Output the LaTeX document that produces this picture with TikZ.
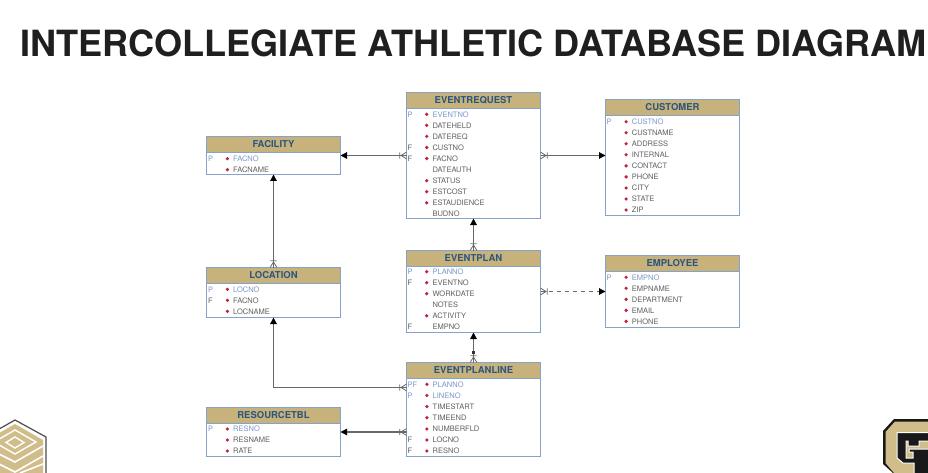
\documentclass[tikz,border=0pt]{standalone}
\usepackage{fontspec}
\setmainfont{TeX Gyre Heros}
\usetikzlibrary{arrows.meta}
\definecolor{headtan}{HTML}{C8B27C}
\definecolor{edgeblue}{HTML}{85A3C8}
\definecolor{headblue}{HTML}{2A5580}
\definecolor{keyblue}{HTML}{7A98C6}
\definecolor{fieldgray}{HTML}{606060}
\definecolor{dotred}{HTML}{C4203C}
\definecolor{linkgray}{HTML}{686868}
\definecolor{logogold}{HTML}{D0BD8A}
\tikzset{
	tbl/.style={draw=edgeblue,line width=1.2pt,fill=white,inner sep=0pt,outer sep=0pt,minimum width=134pt,anchor=north west},
	headbox/.style={tbl,fill=headtan,minimum height=16pt,text=headblue,font=\fontsize{9.5}{11}\bfseries\selectfont},
	field/.style={anchor=west,inner sep=0pt,text height=5.5pt,text depth=0pt,text=fieldgray,font=\fontsize{7.5}{9}\selectfont},
	keyfield/.style={field,text=keyblue},
	keytag/.style={field,text=keyblue},
	ftag/.style={field},
	dot/.style={fill=dotred},
	link/.style={line width=1.2pt,draw=linkgray,-{Triangle[length=6.5pt,width=6.5pt,color=black]}},
	crowfoot/.pic={\draw[line width=0.8pt,draw=linkgray] (0,3.4) -- (5.5,0) -- (0,-3.4) (6.8,3.2) -- (6.8,-3.2);},
}
\begin{document}
\begin{tikzpicture}[x=1pt,y=-1pt]
	\useasboundingbox (0,0) rectangle (928,473);
	\node[anchor=west,inner sep=0pt,text=black!88,font=\fontsize{36.1}{40}\bfseries\selectfont] (title) at (20,43) {INTERCOLLEGIATE ATHLETIC DATABASE DIAGRAM};

	% tables
	\node[tbl,minimum height=126pt] (eventrequest) at (406.5,92.5) {};
	\node[headbox] (eventrequesthead) at (406.5,92.5) {EVENTREQUEST};
	\node[tbl,minimum height=116pt] (customer) at (605.5,99.5) {};
	\node[headbox] (customerhead) at (605.5,99.5) {CUSTOMER};
	\node[tbl,minimum height=38pt] (facility) at (206.5,136.5) {};
	\node[headbox] (facilityhead) at (206.5,136.5) {FACILITY};
	\node[tbl,minimum height=50pt] (location) at (206.5,267.5) {};
	\node[headbox] (locationhead) at (206.5,267.5) {LOCATION};
	\node[tbl,minimum height=82pt] (eventplan) at (406.5,250.5) {};
	\node[headbox] (eventplanhead) at (406.5,250.5) {EVENTPLAN};
	\node[tbl,minimum height=72pt] (employee) at (605.5,255.5) {};
	\node[headbox] (employeehead) at (605.5,255.5) {EMPLOYEE};
	\node[tbl,minimum height=94pt] (eventplanline) at (406.5,362.5) {};
	\node[headbox] (eventplanlinehead) at (406.5,362.5) {EVENTPLANLINE};
	\node[tbl,minimum height=49pt] (resourcetbl) at (206.5,407.5) {};
	\node[headbox] (resourcetblhead) at (206.5,407.5) {RESOURCETBL};

	% fields
	\node[keyfield] (er1) at (432.3,114.3) {EVENTNO};
	\node[field] (er2) at (432.3,125.3) {DATEHELD};
	\node[field] (er3) at (432.3,136.4) {DATEREQ};
	\node[field] (er4) at (432.3,147.5) {CUSTNO};
	\node[field] (er5) at (432.3,158.5) {FACNO};
	\node[field] (er6) at (432.3,169.6) {DATEAUTH};
	\node[field] (er7) at (432.3,180.7) {STATUS};
	\node[field] (er8) at (432.3,191.7) {ESTCOST};
	\node[field] (er9) at (432.3,202.8) {ESTAUDIENCE};
	\node[field] (er10) at (432.3,213.8) {BUDNO};
	\node[keyfield] (cu1) at (631.7,121.7) {CUSTNO};
	\node[field] (cu2) at (631.7,132.7) {CUSTNAME};
	\node[field] (cu3) at (631.7,143.8) {ADDRESS};
	\node[field] (cu4) at (631.7,154.8) {INTERNAL};
	\node[field] (cu5) at (631.7,165.9) {CONTACT};
	\node[field] (cu6) at (631.7,176.9) {PHONE};
	\node[field] (cu7) at (631.7,188) {CITY};
	\node[field] (cu8) at (631.7,199) {STATE};
	\node[field] (cu9) at (631.7,210) {ZIP};
	\node[keyfield] (fa1) at (233,158.7) {FACNO};
	\node[field] (fa2) at (233,169.7) {FACNAME};
	\node[keyfield] (lo1) at (233,289.3) {LOCNO};
	\node[field] (lo2) at (233,300.3) {FACNO};
	\node[field] (lo3) at (233,311.3) {LOCNAME};
	\node[keyfield] (ep1) at (432.3,271.7) {PLANNO};
	\node[field] (ep2) at (432.3,282.7) {EVENTNO};
	\node[field] (ep3) at (432.3,293.7) {WORKDATE};
	\node[field] (ep4) at (432.3,304.8) {NOTES};
	\node[field] (ep5) at (432.3,315.8) {ACTIVITY};
	\node[field] (ep6) at (432.3,326.7) {EMPNO};
	\node[keyfield] (em1) at (631.7,277.3) {EMPNO};
	\node[field] (em2) at (631.7,288.3) {EMPNAME};
	\node[field] (em3) at (631.7,299.4) {DEPARTMENT};
	\node[field] (em4) at (631.7,310.4) {EMAIL};
	\node[field] (em5) at (631.7,321.4) {PHONE};
	\node[keyfield] (pl1) at (432.5,384.3) {PLANNO};
	\node[keyfield] (pl2) at (432.5,395.5) {LINENO};
	\node[field] (pl3) at (432.5,406.6) {TIMESTART};
	\node[field] (pl4) at (432.5,417.7) {TIMEEND};
	\node[field] (pl5) at (432.5,429) {NUMBERFLD};
	\node[field] (pl6) at (432.5,440) {LOCNO};
	\node[field] (pl7) at (432.5,451) {RESNO};
	\node[keyfield] (re1) at (233,429) {RESNO};
	\node[field] (re2) at (233,440) {RESNAME};
	\node[field] (re3) at (233,451) {RATE};

	% key letters
	\node[keytag] (erp) at (407.5,114.3) {P};
	\node[ftag] (erf1) at (407.5,147.5) {F};
	\node[ftag] (erf2) at (407.5,158.5) {F};
	\node[keytag] (cup) at (606.5,121.7) {P};
	\node[keytag] (fap) at (208,158.7) {P};
	\node[keytag] (lop) at (208,289.3) {P};
	\node[ftag] (lof) at (208,300.3) {F};
	\node[keytag] (epp) at (407.5,271.7) {P};
	\node[ftag] (epf1) at (407.5,282.7) {F};
	\node[ftag] (epf2) at (407.5,326.7) {F};
	\node[keytag] (emp) at (606.5,277.3) {P};
	\node[keytag] (plpf) at (407.5,384.3) {PF};
	\node[keytag] (plp) at (407.5,395.5) {P};
	\node[ftag] (plf1) at (407.5,440) {F};
	\node[ftag] (plf2) at (407.5,451) {F};
	\node[keytag] (rep) at (208,429) {P};

	% required marks
	\foreach \fld in {er1,er2,er3,er4,er5,er7,er8,er9,cu1,cu2,cu3,cu4,cu5,cu6,cu7,cu8,cu9,fa1,fa2,lo1,lo2,lo3,ep1,ep2,ep3,ep5,em1,em2,em3,em4,em5,pl1,pl2,pl3,pl4,pl5,pl6,pl7,re1,re2,re3}
		\fill[dot] ([xshift=-5.6pt]\fld.west) circle (1.8pt);

	% connectors
	\coordinate (planfoot) at (406.5,387.5);
	\coordinate (planmark) at (473.5,352.6);
	\draw[link] (eventrequest.west) -- (facility.east);
	\draw[link] (eventrequest.east) -- (customer.west |- eventrequest.east);
	\draw[link] (location.north) -- (facility.south);
	\draw[link] (eventplan.north) -- (eventrequest.south);
	\draw[link,dash pattern=on 4.5pt off 3.5pt] (eventplan.east) -- (employee.west);
	\draw[link] (eventplanline.north) -- (eventplan.south);
	\draw[link] (planfoot) -| (location.south);
	\draw[link] (resourcetbl.east -| eventplanline.west) -- (resourcetbl.east);
	\pic[rotate=180] at (eventrequest.west) {crowfoot};
	\pic at (eventrequest.east) {crowfoot};
	\pic[rotate=90] at (location.north) {crowfoot};
	\pic[rotate=90] at (eventplan.north) {crowfoot};
	\pic at (eventplan.east) {crowfoot};
	\pic[rotate=90] at (eventplanline.north) {crowfoot};
	\pic[rotate=180] at (planfoot) {crowfoot};
	\pic[rotate=180] at (resourcetbl.east -| eventplanline.west) {crowfoot};
	\fill[black!80] (planmark) ++(-1.8,-1.8) rectangle ++(3.6,3.6);

	% left logo
	\fill[logogold] (15,424) -- (43,440) -- (43,473) -- (-13,473) -- (-13,440) -- cycle;
	\draw[white,line width=1.4pt] (15,430) -- (36,442) -- (15,454) -- (-6,442) -- cycle;
	\draw[white,line width=1.4pt] (15,437) -- (24,442.5) -- (15,448) -- (6,442.5) -- cycle;
	\draw[white,line width=1.6pt] (-13,448) -- (15,462) -- (43,446) (-13,458) -- (15,472) -- (43,456) (20,473) -- (43,464);
	\draw[black!70,line width=1.2pt] (-15,437) -- (15,420) -- (46,437) -- (46,473);

	% right logo
	\fill[black!90] (883,431) -- (894,419) -- (928,419) -- (928,473) -- (893,473) -- (883,464) -- cycle;
	\fill[logogold] (885.5,432) -- (895,421.5) -- (928,421.5) -- (928,473) -- (894,473) -- (885.5,463) -- cycle;
	\filldraw[fill=black!90,draw=white,line width=1pt] (897,432.5) -- (929,432.5) -- (929,441) -- (919,441) -- (919,446) -- (908,446) -- (908,441) -- (906,441) -- (906,458) -- (913,458) -- (913,452) -- (909,452) -- (909,449) -- (929,449) -- (929,474) -- (914,474) -- (914,463) -- (903,463) -- (897,458) -- cycle;
\end{tikzpicture}
\end{document}
